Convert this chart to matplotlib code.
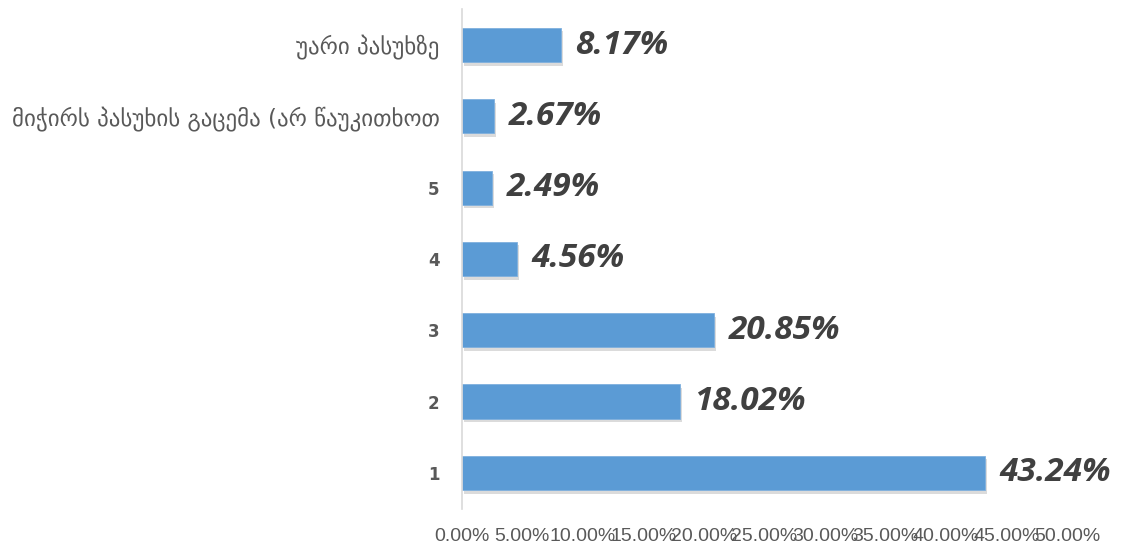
import matplotlib
matplotlib.use("Agg")
import matplotlib.pyplot as plt
import matplotlib.patheffects as pe

# categories from bottom to top
categories = ["1", "2", "3", "4", "5",
              "მიჭირს პასუხის გაცემა (არ წაუკითხოთ",
              "უარი პასუხზე"]
values = [43.24, 18.02, 20.85, 4.56, 2.49, 2.67, 8.17]
xticks = [0, 5, 10, 15, 20, 25, 30, 35, 40, 45, 50]

fig = plt.figure(figsize=(11.32, 5.51), dpi=100)
ax = fig.add_axes([0.408, 0.077, 0.5345, 0.906])

bar_color = "#5b9bd5"
bars = ax.barh(range(len(categories)), values, height=0.48, color=bar_color,
               edgecolor="#7fb0de", linewidth=0.6)
for b in bars:
    b.set_path_effects([pe.SimplePatchShadow(offset=(1.5, -2.5), shadow_rgbFace="#9a9a9a", alpha=0.35),
                        pe.Normal()])

for i, v in enumerate(values):
    ax.text(v + 1.2, i, f"{v:.2f}%", va="center", ha="left",
            fontsize=24, fontweight="bold", fontstyle="italic",
            color="#404040", family=["Open Sans", "DejaVu Sans"])

ax.set_xlim(0, 50)
ax.set_ylim(-0.5, len(categories) - 0.5)
ax.set_xticks(xticks)
ax.set_xticklabels([f"{t:.2f}%" for t in xticks], fontsize=14, color="#595959",
                   family=["Liberation Sans", "DejaVu Sans"])
ax.set_yticks(range(len(categories)))
ax.set_yticklabels(categories, color="#595959", fontsize=12)
for lbl in ax.get_yticklabels():
    if lbl.get_text().isdigit():
        lbl.set_fontweight("bold")
    else:
        lbl.set_fontsize(16.5)

ax.tick_params(axis="both", length=0)
ax.tick_params(axis="y", pad=16)
ax.tick_params(axis="x", pad=14)
for s in ["top", "right", "bottom"]:
    ax.spines[s].set_visible(False)
ax.spines["left"].set_color("#d9d9d9")
ax.spines["left"].set_linewidth(1.2)

fig.savefig("out.png", dpi=100)
